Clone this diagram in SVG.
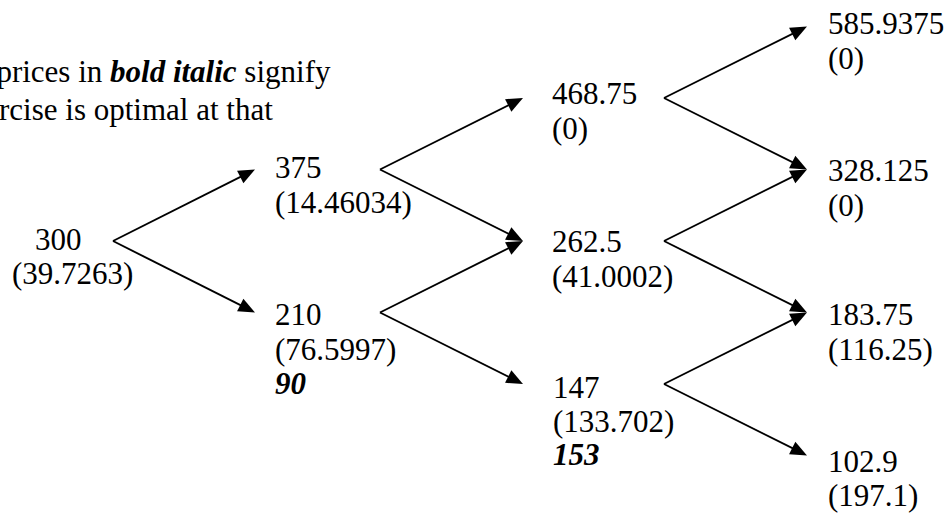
<svg xmlns="http://www.w3.org/2000/svg" width="949" height="519" viewBox="0 0 949 519">
<style>
text{font-family:'Liberation Serif','Times New Roman',Times,serif;font-size:31px;fill:#000}
.bi{font-weight:bold;font-style:italic}
.c{stroke:#000;stroke-width:1.9;fill:none}
</style>
<defs>
<marker id="ah" markerUnits="userSpaceOnUse" viewBox="-14 -8 19 16" markerWidth="19" markerHeight="16" refX="0" refY="0" orient="auto">
<path d="M4,0 L-12.5,-7 L-12.5,7 Z" fill="#000"/>
</marker>
</defs>
<rect width="949" height="519" fill="#fff"/>
<g id="note">
<text x="-3.6" y="82">prices in <tspan class="bi">bold italic</tspan> signify</text>
<text x="-1" y="120">rcise is optimal at that</text>
</g>
<g id="connectors" class="c">
<line x1="113" y1="241" x2="251.4" y2="171.3" marker-end="url(#ah)"/>
<line x1="113" y1="241" x2="251.4" y2="310.7" marker-end="url(#ah)"/>
<line x1="380" y1="169.5" x2="519.4" y2="99.8" marker-end="url(#ah)"/>
<line x1="380" y1="169.5" x2="519.4" y2="239.2" marker-end="url(#ah)"/>
<line x1="380" y1="312.5" x2="519.4" y2="242.8" marker-end="url(#ah)"/>
<line x1="380" y1="312.5" x2="519.4" y2="382.2" marker-end="url(#ah)"/>
<line x1="664" y1="98" x2="803.4" y2="28.3" marker-end="url(#ah)"/>
<line x1="664" y1="98" x2="803.4" y2="167.7" marker-end="url(#ah)"/>
<line x1="664" y1="241" x2="803.4" y2="171.3" marker-end="url(#ah)"/>
<line x1="664" y1="241" x2="803.4" y2="310.7" marker-end="url(#ah)"/>
<line x1="664" y1="384" x2="803.4" y2="314.3" marker-end="url(#ah)"/>
<line x1="664" y1="384" x2="803.4" y2="453.7" marker-end="url(#ah)"/>
</g>
<g id="n300"><text x="35" y="250">300</text><text x="12" y="284">(39.7263)</text></g>
<g id="n375"><text x="275" y="178">375</text><text x="275" y="213">(14.46034)</text></g>
<g id="n210"><text x="275" y="325">210</text><text x="275" y="360">(76.5997)</text><text x="275" y="394" class="bi">90</text></g>
<g id="n468"><text x="552" y="104">468.75</text><text x="552" y="139">(0)</text></g>
<g id="n262"><text x="552" y="252">262.5</text><text x="552" y="287">(41.0002)</text></g>
<g id="n147"><text x="553" y="398">147</text><text x="553" y="432">(133.702)</text><text x="553" y="465" class="bi">153</text></g>
<g id="n585"><text x="828" y="34">585.9375</text><text x="828" y="69">(0)</text></g>
<g id="n328"><text x="828" y="181">328.125</text><text x="828" y="216">(0)</text></g>
<g id="n183"><text x="828" y="325">183.75</text><text x="828" y="360">(116.25)</text></g>
<g id="n102"><text x="828" y="472">102.9</text><text x="828" y="506">(197.1)</text></g>
</svg>
